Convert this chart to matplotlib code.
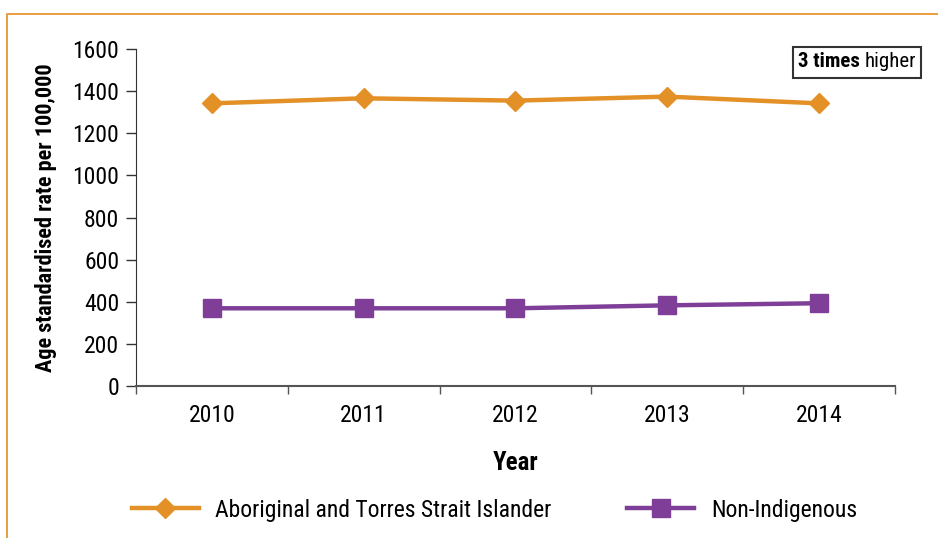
import matplotlib
matplotlib.use("Agg")
import matplotlib.pyplot as plt
from matplotlib.lines import Line2D
from matplotlib.patches import Rectangle

plt.rcParams['font.family'] = ['Roboto Condensed', 'Liberation Sans Narrow', 'DejaVu Sans']

years = ['2010', '2011', '2012', '2013', '2014']
indigenous = [1342, 1366, 1355, 1374, 1342]
non_indigenous = [369, 369, 369, 383, 393]

orange = '#E39127'
purple = '#7F3F98'

fig = plt.figure(figsize=(9.38, 5.38), dpi=100)
ax = fig.add_axes([0.145, 0.2825, 0.809, 0.6264])

x = range(len(years))
ax.plot(x, indigenous, color=orange, lw=3.2, marker='D', ms=10, mec=orange, mfc=orange)
ax.plot(x, non_indigenous, color=purple, lw=3.2, marker='s', ms=13, mec=purple, mfc=purple)

ax.set_xlim(-0.5, 4.5)
ax.set_ylim(0, 1600)
ax.set_yticks(range(0, 1601, 200))
ax.set_xticks(list(x))
ax.set_xticklabels(years)
ax.set_xticks([i - 0.5 for i in range(6)], minor=True)
ax.tick_params(axis='x', which='major', length=0, pad=13, labelsize=17)
ax.tick_params(axis='x', which='minor', length=6, width=1, color='#555555', direction='out')
ax.tick_params(axis='y', length=7, width=1, color='#333333', labelsize=17, pad=5)

for s in ['top', 'right']:
    ax.spines[s].set_visible(False)
ax.spines['left'].set_color('#333333')
ax.spines['bottom'].set_color('#555555')
ax.spines['bottom'].set_linewidth(1.5)

ax.set_xlabel('Year', fontsize=18, fontweight='bold', labelpad=17)
ax.set_ylabel('Age standardised rate per 100,000', fontsize=16, fontweight='bold', labelpad=11)

# "3 times higher" box
t1 = fig.text(0.851, 0.885, '3 times', fontsize=15, fontweight='bold', ha='left', va='center')
fig.canvas.draw()
bb = t1.get_window_extent()
x2 = fig.transFigure.inverted().transform((bb.x1, bb.y0))[0]
fig.text(x2 + 0.005, 0.885, 'higher', fontsize=15, ha='left', va='center')
fig.patches.append(Rectangle((0.845, 0.855), 0.137, 0.058, transform=fig.transFigure,
                             fill=False, edgecolor='#333333', lw=1.5))

# legend
handles = [Line2D([], [], color=orange, lw=3.2, marker='D', ms=10),
           Line2D([], [], color=purple, lw=3.2, marker='s', ms=13)]
fig.legend(handles, ['Aboriginal and Torres Strait Islander', 'Non-Indigenous'],
           loc='center', bbox_to_anchor=(0.527, 0.052), ncol=2, frameon=False,
           fontsize=17, handlelength=2.85, columnspacing=3.2, handletextpad=0.7)

# outer frame
fig.add_artist(Line2D([0.0075, 0.0075, 1.0], [0.0, 0.974, 0.974], transform=fig.transFigure,
                      color='#E8962E', lw=1.3))

fig.savefig('out.png', dpi=100)
